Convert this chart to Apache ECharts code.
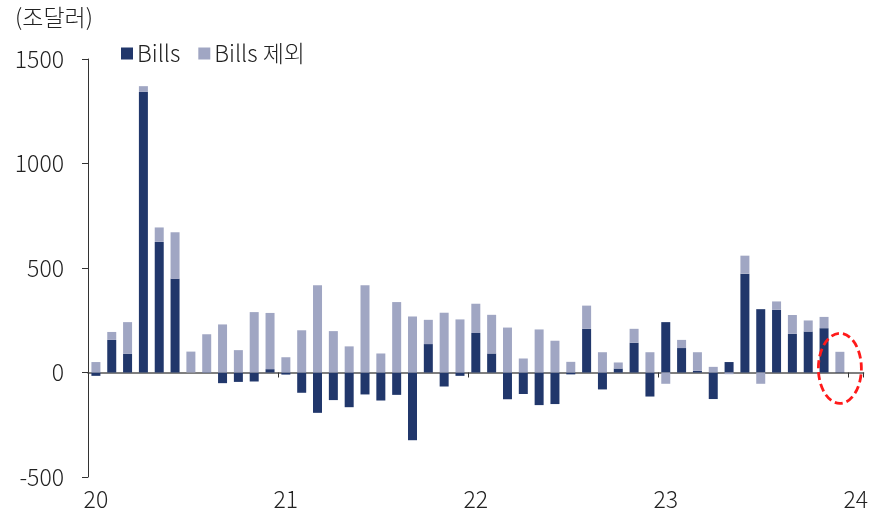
<!DOCTYPE html>
<html>
<head>
<meta charset="utf-8">
<script src="https://cdn.jsdelivr.net/npm/echarts@6/dist/echarts.min.js"></script>
<style>
html,body{margin:0;padding:0;background:#fff;}
#c{width:871px;height:515px;}
</style>
</head>
<body>
<div id="c"></div>
<script>
// Monthly categories Jan 2020 .. Jan 2024 (last empty)
var months = [
  '2020-01','2020-02','2020-03','2020-04','2020-05','2020-06','2020-07','2020-08','2020-09','2020-10','2020-11','2020-12',
  '2021-01','2021-02','2021-03','2021-04','2021-05','2021-06','2021-07','2021-08','2021-09','2021-10','2021-11','2021-12',
  '2022-01','2022-02','2022-03','2022-04','2022-05','2022-06','2022-07','2022-08','2022-09','2022-10','2022-11','2022-12',
  '2023-01','2023-02','2023-03','2023-04','2023-05','2023-06','2023-07','2023-08','2023-09','2023-10','2023-11','2023-12',
  '2024-01'
];
// Bills (dark)
var bills = [
  -16, 156, 89, 1343, 625, 448, 0, -2, -51, -45, -43, 16,
  -10, -97, -193, -132, -166, -105, -134, -107, -324, 136, -67, -16,
  189, 91, -128, -103, -156, -151, -9, 209, -81, 19, 142, -115,
  241, 117, 8, -127, 50, 473, 303, 300, 185, 196, 212, 2,
  null
];
// Bills 제외 (light)
var nonBills = [
  50, 38, 152, 27, 69, 223, 100, 183, 230, 107, 289, 269,
  73, 202, 417, 198, 125, 418, 91, 337, 268, 116, 286, 254,
  140, 185, 215, 67, 206, 152, 51, 111, 97, 29, 67, 97,
  -54, 39, 89, 27, -8, 86, -54, 40, 90, 53, 54, 97,
  null
];
var yTicks = [-500, 0, 500, 1000, 1500];
var seriesNames = ['Bills', 'Bills 제외'];
var unitLabel = '(조달러)';
var highlightMonth = '2023-12';
var highlightValue = 20;

var FONT = '"Noto Sans CJK KR", "Noto Sans", sans-serif';
var FW = 300;
var chart = echarts.init(document.getElementById('c'), null, {renderer: 'canvas'});

var option = {
  animation: false,
  backgroundColor: '#fff',
  title: {
    text: unitLabel,
    left: 10, top: 1,
    textStyle: {fontFamily: FONT, fontSize: 23, fontWeight: FW, color: '#222'}
  },
  legend: {
    left: 116, top: 37,
    itemWidth: 12, itemHeight: 12, itemGap: 18,
    icon: 'rect',
    textStyle: {fontFamily: FONT, fontSize: 23, fontWeight: FW, color: '#222', padding: [0, 0, 0, -1]},
    data: seriesNames
  },
  grid: {left: 88, right: 6, top: 59, bottom: 38},
  xAxis: [
    {
      type: 'category', data: months, position: 'bottom',
      axisLine: {show: false, onZero: false},
      axisTick: {show: false},
      axisLabel: {
        interval: 11, margin: 11,
        fontFamily: FONT, fontSize: 23, fontWeight: FW, color: '#222',
        formatter: function (v) { return v.slice(2, 4); }
      },
      splitLine: {show: false}
    },
    {
      type: 'category', data: months, position: 'top',
      axisLine: {show: true, onZero: true, lineStyle: {color: '#555', width: 1.5}},
      axisTick: {show: true, inside: true, interval: 11, length: 5, lineStyle: {color: '#333', width: 1}},
      axisLabel: {show: false},
      splitLine: {show: false}
    }
  ],
  yAxis: {
    type: 'value', min: yTicks[0], max: yTicks[yTicks.length - 1], interval: 500,
    axisLine: {show: true, lineStyle: {color: '#333', width: 1}},
    axisTick: {show: true, length: 6, lineStyle: {color: '#333'}},
    axisLabel: {
      margin: 24, fontFamily: FONT, fontSize: 23, fontWeight: FW, color: '#222',
      formatter: function (v) { return String(v); }
    },
    splitLine: {show: false}
  },
  series: [
    {
      name: seriesNames[0], type: 'bar', stack: 'total', xAxisIndex: 0,
      barWidth: 9, data: bills,
      itemStyle: {color: '#21376b'}
    },
    {
      name: seriesNames[1], type: 'bar', stack: 'total', xAxisIndex: 0,
      barWidth: 9, data: nonBills,
      itemStyle: {color: '#a0a6c3'}
    }
  ]
};
chart.setOption(option);

var p = chart.convertToPixel({xAxisIndex: 0, yAxisIndex: 0}, [highlightMonth, highlightValue]);
chart.setOption({
  graphic: [{
    type: 'ellipse',
    shape: {cx: p[0], cy: p[1], rx: 21.5, ry: 35},
    style: {fill: 'none', stroke: '#ff1a1a', lineWidth: 2.8, lineDash: [8, 4]},
    z: 100
  }]
});
</script>
</body>
</html>
